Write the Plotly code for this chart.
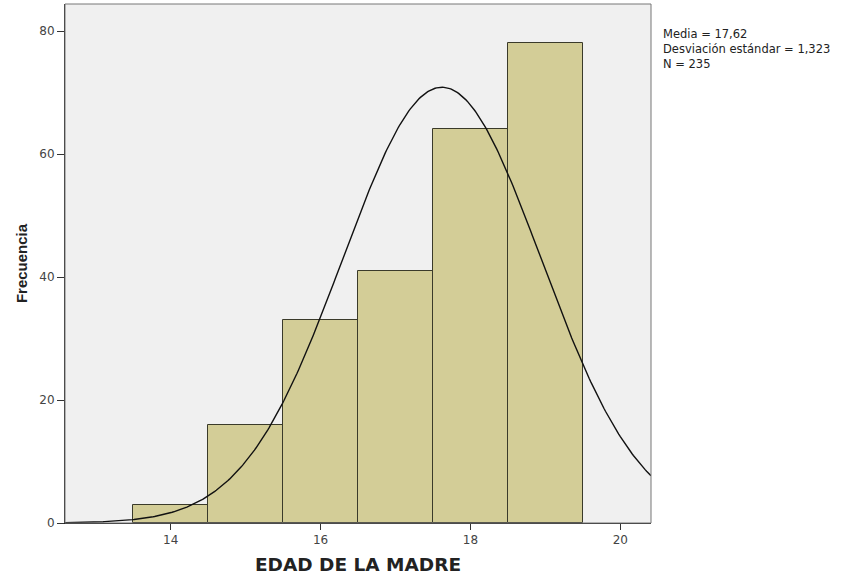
import numpy as np
import plotly.graph_objects as go

edades = [14, 15, 16, 17, 18, 19]
frecuencias = [3, 16, 33, 41, 64, 78]
media = 17.62
desviacion = 1.323
n_total = 235
ancho_bin = 1
stats_lines = ["Media = 17,62", "Desviación estándar = 1,323", "N = 235"]

x_curve = np.linspace(12.59, 20.41, 400)
y_curve = n_total * ancho_bin / (desviacion * np.sqrt(2 * np.pi)) * np.exp(-0.5 * ((x_curve - media) / desviacion) ** 2)

fig = go.Figure()
fig.add_trace(go.Bar(
    x=edades, y=frecuencias, width=1,
    marker=dict(color="#d3cd97", line=dict(color="#3a3a2a", width=1)),
    showlegend=False,
))
fig.add_trace(go.Scatter(
    x=x_curve, y=y_curve, mode="lines",
    line=dict(color="#111111", width=1.4), showlegend=False,
))

fig.update_layout(
    width=859, height=576,
    margin=dict(l=65, r=208, t=4, b=53),
    paper_bgcolor="white", plot_bgcolor="#f0f0f0",
    bargap=0,
    font=dict(family="DejaVu Sans, sans-serif", color="#333333"),
    xaxis=dict(
        range=[12.59, 20.41], tickvals=[14, 16, 18, 20],
        ticks="outside", ticklen=6, tickcolor="#333333",
        showgrid=False, zeroline=False,
        showline=True, linecolor="#222222", linewidth=1, mirror=False,
        tickfont=dict(size=12, color="#444444"),
        title=dict(text="<b>EDAD DE LA MADRE</b>", font=dict(size=18.5, color="#222222"), standoff=11),
    ),
    yaxis=dict(
        range=[0, 84.4], tickvals=[0, 20, 40, 60, 80],
        ticks="outside", ticklen=7, tickcolor="#333333",
        showgrid=False, zeroline=False,
        showline=True, linecolor="#222222", linewidth=1,
        tickfont=dict(size=12, color="#444444"),
        title=dict(text="<b>Frecuencia</b>", font=dict(family="Liberation Sans, Arial, sans-serif", size=15, color="#222222"), standoff=8),
    ),
    shapes=[dict(type="rect", xref="paper", yref="paper", x0=0, y0=0, x1=1, y1=1,
                 line=dict(color="#777777", width=1), fillcolor="rgba(0,0,0,0)")],
    annotations=[dict(
        xref="paper", yref="paper", x=1.0, y=1.0, xshift=10, yshift=-21,
        xanchor="left", yanchor="top", align="left", showarrow=False,
        text="<br>".join(stats_lines),
        font=dict(family="DejaVu Sans, sans-serif", size=11.5, color="#222222"),
    )],
)

fig.write_html("out.html")
